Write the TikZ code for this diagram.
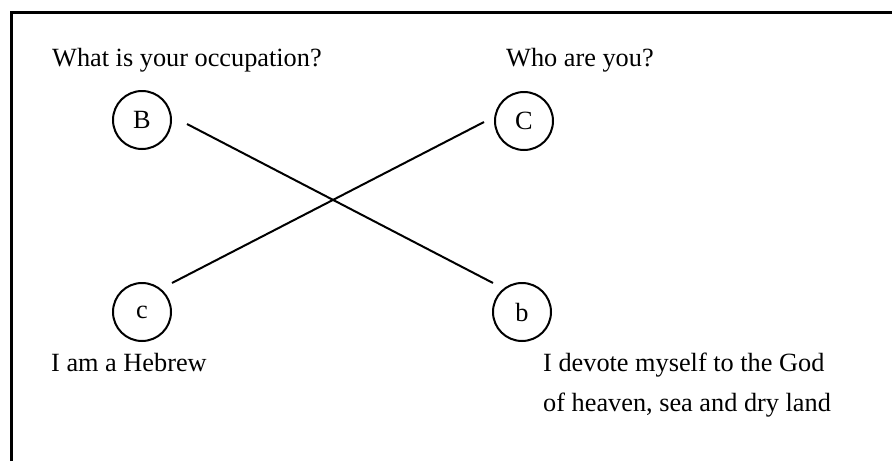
\documentclass[tikz,border=0pt]{standalone}
\usepackage{fontspec}
\setmainfont{Liberation Serif}
\begin{document}
\begin{tikzpicture}[x=1pt,y=-1pt,
  lbl/.style={anchor=base west,inner sep=0pt,font=\fontsize{26.3}{40}\selectfont},
  letter/.style={draw,circle,line width=2pt,minimum size=58pt,inner sep=0pt,font=\fontsize{26.3}{30}\selectfont},
  conn/.style={line width=2pt}]
\useasboundingbox (0,0) rectangle (892,461);
\draw[line width=3pt] (11,461) -- (11,12) -- (892,12);
\node[letter] (B) at (142,120) {B};
\node[letter] (C) at (524,121) {C};
\node[letter] (c) at (142,312) {c};
\node[letter] (b) at (522,312) {b};
\node[lbl] (q1) at (52,66) {What is your occupation?};
\node[lbl] (q2) at (506,66) {Who are you?};
\node[lbl] (a1) at (51,371) {I am a Hebrew};
\node[lbl,align=left] (a2) at (543,411) {I devote myself to the God\\of heaven, sea and dry land};
\coordinate (B1) at ([shift={(45,4)}]B.center);
\coordinate (b1) at ([shift={(-29,-29)}]b.center);
\coordinate (c1) at ([shift={(30,-29)}]c.center);
\coordinate (C1) at ([shift={(-40,1)}]C.center);
\draw[conn] (B1) -- (b1);
\draw[conn] (c1) -- (C1);
\end{tikzpicture}
\end{document}
